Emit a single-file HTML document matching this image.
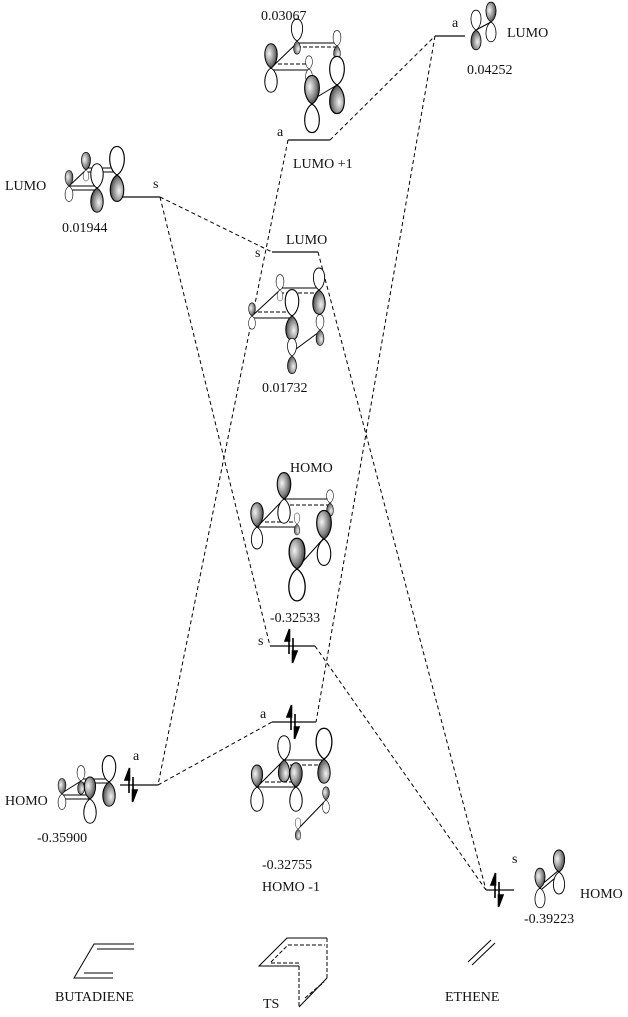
<!DOCTYPE html>
<html><head><meta charset="utf-8"><style>
html,body{margin:0;padding:0;background:#fff;}
svg{display:block;}
text{font-family:"Liberation Serif",serif;font-size:14px;fill:#111;}
</style></head><body>
<svg width="628" height="1017" viewBox="0 0 628 1017" xmlns="http://www.w3.org/2000/svg">
<defs>
<radialGradient id="gg" cx="0.35" cy="0.4" r="0.7">
<stop offset="0" stop-color="#f4f4f4"/><stop offset="0.6" stop-color="#888"/><stop offset="1" stop-color="#333"/>
</radialGradient>
<path id="W" d="M0,0 C-8,-5 -7,-22 0,-22 C7,-22 8,-5 0,0Z" fill="#fff" stroke="#000" stroke-width="0.9"/>
<path id="G" d="M0,0 C-8,-5 -7,-22 0,-22 C7,-22 8,-5 0,0Z" fill="url(#gg)" stroke="#000" stroke-width="0.9"/>
</defs>

<g stroke="#000" stroke-width="1" stroke-dasharray="4,3" fill="none">
<line x1="160" y1="197" x2="272" y2="252"/>
<line x1="160" y1="197" x2="270" y2="646"/>
<line x1="288" y1="140" x2="158" y2="785"/>
<line x1="330" y1="140" x2="435" y2="36"/>
<line x1="435" y1="36" x2="316" y2="722"/>
<line x1="158" y1="785" x2="272" y2="722"/>
<line x1="318" y1="252" x2="486" y2="890"/>
<line x1="315" y1="646" x2="486" y2="890"/>
</g>

<g stroke="#333" stroke-width="1.4">
<line x1="122" y1="197" x2="160" y2="197"/>
<line x1="435" y1="36" x2="465" y2="36"/>
<line x1="288" y1="140" x2="330" y2="140"/>
<line x1="272" y1="252" x2="318" y2="252"/>
<line x1="270" y1="646" x2="315" y2="646"/>
<line x1="272" y1="722" x2="316" y2="722"/>
<line x1="120" y1="785" x2="158" y2="785"/>
<line x1="486" y1="890" x2="514" y2="890"/>
</g>

<g stroke="#000" stroke-width="1.6" fill="#000">
<g transform="translate(131,785)"><line x1="-2" y1="-12" x2="-2" y2="8"/><path d="M-1.5,-17 L-6,-5 L-1.5,-5Z"/><line x1="2" y1="-8" x2="2" y2="12"/><path d="M1.5,17 L6,5 L1.5,5Z"/></g>
<g transform="translate(291,646)"><line x1="-2" y1="-12" x2="-2" y2="8"/><path d="M-1.5,-17 L-6,-5 L-1.5,-5Z"/><line x1="2" y1="-8" x2="2" y2="12"/><path d="M1.5,17 L6,5 L1.5,5Z"/></g>
<g transform="translate(293,722)"><line x1="-2" y1="-12" x2="-2" y2="8"/><path d="M-1.5,-17 L-6,-5 L-1.5,-5Z"/><line x1="2" y1="-8" x2="2" y2="12"/><path d="M1.5,17 L6,5 L1.5,5Z"/></g>
<g transform="translate(497,890)"><line x1="-2" y1="-12" x2="-2" y2="8"/><path d="M-1.5,-17 L-6,-5 L-1.5,-5Z"/><line x1="2" y1="-8" x2="2" y2="12"/><path d="M1.5,17 L6,5 L1.5,5Z"/></g>
</g>

<g stroke="#000" stroke-width="1" fill="none">
<line x1="69" y1="186" x2="86" y2="170"/><line x1="86" y1="168" x2="117" y2="168"/><line x1="86" y1="172" x2="117" y2="172"/>
<line x1="69" y1="186" x2="97" y2="186"/><line x1="72" y1="190" x2="97" y2="190"/>
<line x1="271" y1="68" x2="297" y2="43"/><line x1="297" y1="43" x2="337" y2="43"/>
<line x1="271" y1="70" x2="309" y2="70"/><line x1="312" y1="100" x2="337" y2="85"/>
<line x1="252" y1="316" x2="280" y2="290"/><line x1="280" y1="288" x2="319" y2="288"/>
<line x1="252" y1="318" x2="292" y2="318"/><line x1="319" y1="305" x2="319" y2="318"/><line x1="292" y1="352" x2="319" y2="332"/>
<line x1="257" y1="527" x2="284" y2="499"/><line x1="284" y1="499" x2="330" y2="499"/>
<line x1="257" y1="527" x2="297" y2="527"/><line x1="297" y1="568" x2="324" y2="538"/>
<line x1="257" y1="787" x2="284" y2="760"/><line x1="284" y1="760" x2="324" y2="760"/>
<line x1="257" y1="787" x2="296" y2="787"/><line x1="298" y1="829" x2="326" y2="800"/>
<line x1="62" y1="793" x2="81" y2="781"/><line x1="81" y1="779" x2="109" y2="779"/><line x1="81" y1="783" x2="109" y2="783"/>
<line x1="62" y1="795" x2="90" y2="795"/><line x1="64" y1="799" x2="90" y2="799"/>
<line x1="476" y1="30" x2="491" y2="22"/>
<line x1="540" y1="886" x2="559" y2="870"/><line x1="542" y1="889" x2="561" y2="873"/>
</g>
<g stroke="#000" stroke-width="1" stroke-dasharray="4,2" fill="none">
<line x1="297" y1="47" x2="337" y2="47"/><line x1="278" y1="64" x2="309" y2="64"/>
<line x1="280" y1="293" x2="319" y2="293"/><line x1="258" y1="312" x2="292" y2="312"/>
<line x1="284" y1="505" x2="330" y2="505"/><line x1="265" y1="522" x2="297" y2="522"/>
<line x1="284" y1="765" x2="324" y2="765"/><line x1="265" y1="782" x2="296" y2="782"/>
</g>

<use href="#G" transform="translate(69,186) scale(0.7)"/><use href="#W" transform="translate(69,186) rotate(180) scale(0.7)"/>
<use href="#G" transform="translate(86,170) scale(0.8)"/><use href="#W" transform="translate(86,170) rotate(180) scale(0.5)"/>
<use href="#W" transform="translate(97,188) scale(1.1)"/><use href="#G" transform="translate(97,188) rotate(180) scale(1.1)"/>
<use href="#W" transform="translate(117,175) scale(1.3)"/><use href="#G" transform="translate(117,175) rotate(180) scale(1.2)"/>

<use href="#W" transform="translate(297,41) scale(1.0)"/><use href="#G" transform="translate(297,41) rotate(180) scale(0.6)"/>
<use href="#W" transform="translate(337,46) scale(0.7)"/><use href="#G" transform="translate(337,46) rotate(180) scale(0.6)"/>
<use href="#G" transform="translate(271,68) scale(1.1)"/><use href="#W" transform="translate(271,68) rotate(180) scale(1.1)"/>
<use href="#W" transform="translate(309,69) scale(0.6)"/><use href="#W" transform="translate(309,69) rotate(180) scale(0.6)"/>
<use href="#G" transform="translate(312,104) scale(1.3)"/><use href="#W" transform="translate(312,104) rotate(180) scale(1.3)"/>
<use href="#W" transform="translate(337,85) scale(1.3)"/><use href="#G" transform="translate(337,85) rotate(180) scale(1.3)"/>

<use href="#W" transform="translate(280,290) scale(0.7)"/><use href="#W" transform="translate(280,290) rotate(180) scale(0.5)"/>
<use href="#W" transform="translate(319,290) scale(1.0)"/><use href="#G" transform="translate(319,290) rotate(180) scale(1.1)"/>
<use href="#G" transform="translate(252,316) scale(0.6)"/><use href="#W" transform="translate(252,316) rotate(180) scale(0.6)"/>
<use href="#W" transform="translate(292,316) scale(1.2)"/><use href="#G" transform="translate(292,316) rotate(180) scale(1.1)"/>
<use href="#W" transform="translate(320,330) scale(0.7)"/><use href="#G" transform="translate(320,330) rotate(180) scale(0.7)"/>
<use href="#W" transform="translate(292,356) scale(0.8)"/><use href="#G" transform="translate(292,356) rotate(180) scale(0.8)"/>

<use href="#G" transform="translate(284,499) scale(1.2)"/><use href="#W" transform="translate(284,499) rotate(180) scale(1.1)"/>
<use href="#W" transform="translate(330,503) scale(0.6)"/><use href="#G" transform="translate(330,503) rotate(180) scale(0.6)"/>
<use href="#G" transform="translate(257,527) scale(1.1)"/><use href="#W" transform="translate(257,527) rotate(180) scale(1.0)"/>
<use href="#W" transform="translate(297,524) scale(0.5)"/><use href="#G" transform="translate(297,524) rotate(180) scale(0.5)"/>
<use href="#G" transform="translate(324,539) scale(1.3)"/><use href="#W" transform="translate(324,539) rotate(180) scale(1.2)"/>
<use href="#G" transform="translate(297,569) scale(1.4)"/><use href="#W" transform="translate(297,569) rotate(180) scale(1.45)"/>

<use href="#W" transform="translate(284,760) scale(1.1)"/><use href="#G" transform="translate(284,760) rotate(180) scale(1.0)"/>
<use href="#G" transform="translate(257,787) scale(1.0)"/><use href="#W" transform="translate(257,787) rotate(180) scale(1.1)"/>
<use href="#G" transform="translate(296,787) scale(1.1)"/><use href="#W" transform="translate(296,787) rotate(180) scale(1.1)"/>
<use href="#W" transform="translate(324,759) scale(1.4)"/><use href="#G" transform="translate(324,759) rotate(180) scale(1.1)"/>
<use href="#G" transform="translate(326,800) scale(0.6)"/><use href="#W" transform="translate(326,800) rotate(180) scale(0.6)"/>
<use href="#W" transform="translate(298,829) scale(0.5)"/><use href="#G" transform="translate(298,829) rotate(180) scale(0.5)"/>

<use href="#G" transform="translate(62,794) scale(0.7)"/><use href="#W" transform="translate(62,794) rotate(180) scale(0.7)"/>
<use href="#W" transform="translate(81,781) scale(0.7)"/><use href="#G" transform="translate(81,781) rotate(180) scale(0.6)"/>
<use href="#G" transform="translate(90,799) scale(1.0)"/><use href="#W" transform="translate(90,799) rotate(180) scale(1.1)"/>
<use href="#W" transform="translate(109,782) scale(1.2)"/><use href="#G" transform="translate(109,782) rotate(180) scale(1.1)"/>

<use href="#W" transform="translate(476,30) scale(0.9)"/><use href="#G" transform="translate(476,30) rotate(180) scale(0.9)"/>
<use href="#G" transform="translate(491,22) scale(0.9)"/><use href="#W" transform="translate(491,22) rotate(180) scale(0.9)"/>

<use href="#G" transform="translate(540,888) scale(0.9)"/><use href="#W" transform="translate(540,888) rotate(180) scale(0.9)"/>
<use href="#G" transform="translate(559,872) scale(1.0)"/><use href="#W" transform="translate(559,872) rotate(180) scale(1.0)"/>

<text x="261" y="20">0.03067</text>
<text x="452" y="27">a</text>
<text x="507" y="37">LUMO</text>
<text x="467" y="74">0.04252</text>
<text x="277" y="136">a</text>
<text x="293" y="168">LUMO +1</text>
<text x="5" y="190">LUMO</text>
<text x="153" y="188">s</text>
<text x="62" y="232">0.01944</text>
<text x="286" y="244">LUMO</text>
<text x="255" y="257">s</text>
<text x="262" y="392">0.01732</text>
<text x="290" y="472">HOMO</text>
<text x="270" y="622">-0.32533</text>
<text x="258" y="645">s</text>
<text x="260" y="718">a</text>
<text x="133" y="760">a</text>
<text x="5" y="805">HOMO</text>
<text x="37" y="842">-0.35900</text>
<text x="262" y="869">-0.32755</text>
<text x="262" y="891">HOMO -1</text>
<text x="512" y="863">s</text>
<text x="580" y="898">HOMO</text>
<text x="524" y="923">-0.39223</text>

<g stroke="#000" stroke-width="1" fill="none">
<polyline points="134,944 94,944 74,978 113,978"/>
<line x1="97" y1="949" x2="134" y2="949"/>
<line x1="84" y1="973" x2="113" y2="973"/>
<polyline points="327,938 287,938 259,966 299,966"/>
<line x1="299" y1="1007" x2="327" y2="978"/>
<line x1="468" y1="962" x2="491" y2="940"/><line x1="472" y1="965" x2="495" y2="943"/>
</g>
<g stroke="#000" stroke-width="1" stroke-dasharray="4,2" fill="none">
<line x1="327" y1="938" x2="327" y2="978"/>
<line x1="299" y1="966" x2="299" y2="1007"/>
<polyline points="271,962 288,945 325,945"/>
<line x1="271" y1="963" x2="299" y2="963"/>
<line x1="305" y1="998" x2="324" y2="982"/>
</g>
<text x="55" y="1001">BUTADIENE</text>
<text x="263" y="1008">TS</text>
<text x="445" y="1001">ETHENE</text>
</svg>
</body></html>
